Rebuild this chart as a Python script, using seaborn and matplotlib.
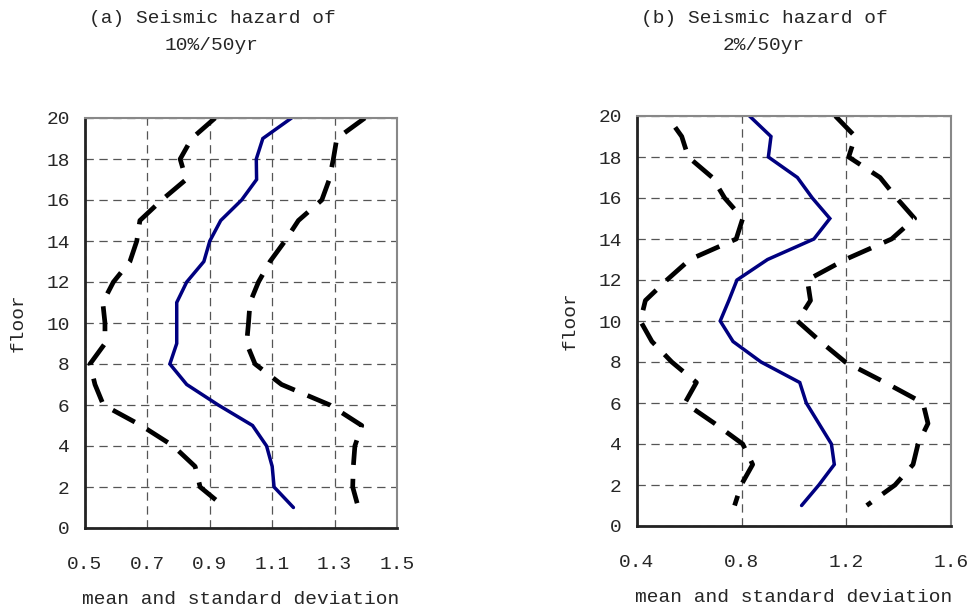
import matplotlib
matplotlib.use("Agg")
import matplotlib.pyplot as plt
import seaborn as sns
import numpy as np
import pandas as pd

floors = list(range(1, 21))

# Panel (a): hazard 10%/50yr
a_mean = [1.168, 1.106, 1.100, 1.082, 1.037, 0.927, 0.826, 0.772, 0.794, 0.794,
          0.794, 0.826, 0.881, 0.900, 0.935, 1.002, 1.050, 1.049, 1.070, 1.162]
a_low = [0.949, 0.869, 0.853, 0.783, 0.680, 0.559, 0.532, 0.516, 0.564, 0.564,
         0.557, 0.591, 0.644, 0.666, 0.676, 0.746, 0.824, 0.805, 0.842, 0.917]
a_high = [1.376, 1.358, 1.360, 1.365, 1.387, 1.285, 1.130, 1.045, 1.018, 1.024,
          1.029, 1.056, 1.093, 1.141, 1.184, 1.259, 1.283, 1.296, 1.307, 1.397]

# Panel (b): hazard 2%/50yr
b_mean = [1.029, 1.095, 1.154, 1.143, 1.095, 1.047, 1.022, 0.874, 0.767, 0.718,
          0.751, 0.782, 0.899, 1.076, 1.137, 1.070, 1.013, 0.902, 0.912, 0.830]
b_low = [0.773, 0.798, 0.842, 0.804, 0.697, 0.583, 0.627, 0.533, 0.457, 0.413,
         0.432, 0.514, 0.602, 0.779, 0.804, 0.735, 0.688, 0.596, 0.571, 0.515]
b_high = [1.278, 1.386, 1.455, 1.474, 1.512, 1.493, 1.348, 1.196, 1.101, 1.013,
          1.063, 1.051, 1.196, 1.373, 1.461, 1.392, 1.329, 1.209, 1.234, 1.158]

a_xticks = [0.5, 0.7, 0.9, 1.1, 1.3, 1.5]
b_xticks = [0.4, 0.8, 1.2, 1.6]
y_ticks = list(range(0, 21, 2))

titles = ["(a) Seismic hazard of\n10%/50yr", "(b) Seismic hazard of\n2%/50yr"]
xlabel = "mean and standard deviation"
ylabel = "floor"

sns.set_style("white")
plt.rcParams['font.family'] = ['Liberation Mono', 'DejaVu Sans']
plt.rcParams['lines.scale_dashes'] = False

fig = plt.figure(figsize=(9.7, 6.1), dpi=100)
ax_a = fig.add_axes([85/970, 1-528/610, (397-85)/970, (528-118)/610])
ax_b = fig.add_axes([637/970, 1-526/610, (951-637)/970, (526-116)/610])

FS = 14
panels = [
    (ax_a, a_mean, a_low, a_high, a_xticks, (0.5, 1.5), 212/970, titles[0], (0, 0)),
    (ax_b, b_mean, b_low, b_high, b_xticks, (0.4, 1.6), 764/970, titles[1], (18, 0)),
]
for ax, mean, low, high, xt, xlim, tx, title, offs in panels:
    df = pd.DataFrame({"floor": floors, "mean": mean, "low": low, "high": high})
    df_top_down = df.iloc[::-1]
    for col, color, lw, off in [("low", "black", 3.4, offs[0]),
                                ("high", "black", 3.4, offs[1]),
                                ("mean", "#000080", 2.5, None)]:
        sns.lineplot(data=df_top_down, x=col, y="floor", sort=False, estimator=None,
                     color=color, linewidth=lw, ax=ax)
        line = ax.lines[-1]
        if off is not None:
            line.set_linestyle((off, (18, 10)))
        line.set_solid_joinstyle("miter")
        line.set_dash_capstyle("butt")
    ax.set_xlim(*xlim)
    ax.set_ylim(0, 20)
    ax.set_xticks(xt)
    ax.set_xticklabels([f"{v:.1f}" for v in xt], fontsize=FS)
    ax.set_yticks(y_ticks)
    ax.set_yticklabels([str(v) for v in y_ticks], fontsize=FS)
    ax.grid(True, linestyle=(0, (6, 4)), color="#555555", linewidth=0.9)
    ax.tick_params(axis="y", direction="out", length=4, width=1, color="#444444", pad=7)
    ax.tick_params(axis="x", direction="out", length=0, pad=20)
    for s in ["top", "right"]:
        ax.spines[s].set_color("#888888")
        ax.spines[s].set_linewidth(1.5)
    for s in ["left", "bottom"]:
        ax.spines[s].set_color("#222222")
        ax.spines[s].set_linewidth(2)
    ax.set_xlabel(xlabel, fontsize=FS, labelpad=13)
    ax.set_ylabel(ylabel, fontsize=FS, labelpad=14)
    fig.text(tx, 1-10/610, title, ha="center", va="top", fontsize=FS,
             linespacing=1.75)

fig.savefig("out.png", dpi=100)
